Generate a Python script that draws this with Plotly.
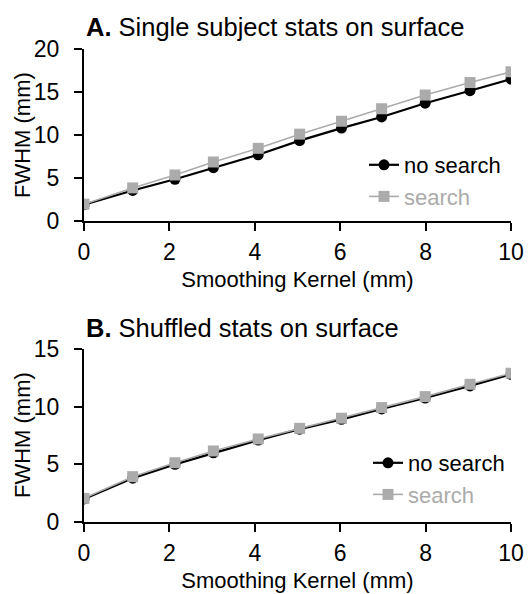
import plotly.graph_objects as go

# Panel A: single subject stats on surface
kernel_a = [0, 1.14, 2.13, 3.03, 4.08, 5.05, 6.03, 6.97, 7.99, 9.04, 10.0]
nosearch_a = [1.9, 3.55, 4.85, 6.2, 7.7, 9.35, 10.8, 12.1, 13.7, 15.15, 16.5]
search_a = [1.95, 3.85, 5.35, 6.86, 8.45, 10.1, 11.6, 13.05, 14.65, 16.1, 17.35]

# Panel B: shuffled stats on surface
kernel_b = [0, 1.14, 2.13, 3.03, 4.08, 5.05, 6.03, 6.97, 7.99, 9.04, 10.0]
nosearch_b = [2.0, 3.8, 5.0, 6.0, 7.1, 8.05, 8.9, 9.8, 10.75, 11.8, 12.8]
search_b = [2.05, 3.93, 5.14, 6.16, 7.2, 8.12, 9.0, 9.92, 10.87, 11.94, 12.9]

titles = ["<b>A.</b> Single subject stats on surface", "<b>B.</b> Shuffled stats on surface"]
x_title = "Smoothing Kernel (mm)"
y_title = "FWHM (mm)"
x_ticks = [0, 2, 4, 6, 8, 10]
y_ticks_a = [0, 5, 10, 15, 20]
y_ticks_b = [0, 5, 10, 15]

BLACK = "#000000"
GRAY = "#ababab"
FONT = "Liberation Sans, Arial, sans-serif"

fig = go.Figure()

def add_pair(x, ns, s, xa, ya, leg):
    fig.add_trace(go.Scatter(x=x, y=ns, mode="lines+markers", name="no search",
                             line=dict(color=BLACK, width=2.2),
                             marker=dict(symbol="circle", size=11, color=BLACK),
                             xaxis=xa, yaxis=ya, legend=leg))
    fig.add_trace(go.Scatter(x=x, y=s, mode="lines+markers",
                             name="<span style='color:%s'>search</span>" % GRAY,
                             line=dict(color=GRAY, width=1.6),
                             marker=dict(symbol="square", size=11, color=GRAY),
                             xaxis=xa, yaxis=ya, legend=leg))

add_pair(kernel_a, nosearch_a, search_a, "x", "y", "legend")
add_pair(kernel_b, nosearch_b, search_b, "x2", "y2", "legend2")

W, H = 528, 594
x0, x1 = 84 / W, 511 / W

axis_common = dict(showline=True, linecolor=BLACK, linewidth=2, ticks="outside",
                   ticklen=8, tickwidth=2, tickcolor=BLACK, showgrid=False,
                   zeroline=False, automargin=False,
                   tickfont=dict(size=23, color=BLACK, family=FONT),
                   title_font=dict(size=22, color=BLACK, family=FONT))

ytitle_font = dict(size=22, color=BLACK, family=FONT)

fig.update_layout(
    width=W, height=H,
    margin=dict(l=0, r=0, t=0, b=0),
    paper_bgcolor="white", plot_bgcolor="white",
    font=dict(family=FONT, color=BLACK),
    xaxis=dict(domain=[x0, x1], range=[0, 10], tickvals=x_ticks, anchor="y",
               ticklabelstandoff=1,
               title=dict(text=x_title, standoff=8), **axis_common),
    yaxis=dict(domain=[1 - 221 / H, 1 - 49 / H], range=[0, 20], tickvals=y_ticks_a,
               anchor="x", ticklabelstandoff=10, **axis_common),
    xaxis2=dict(domain=[x0, x1], range=[0, 10], tickvals=x_ticks, anchor="y2",
                ticklabelstandoff=1,
                title=dict(text=x_title, standoff=8), **axis_common),
    yaxis2=dict(domain=[1 - 522 / H, 1 - 349 / H], range=[0, 15], tickvals=y_ticks_b,
                anchor="x2", ticklabelstandoff=10, **axis_common),
    legend=dict(x=364 / W, y=1 - 144 / H, xanchor="left", yanchor="top",
                bgcolor="rgba(0,0,0,0)", font=dict(size=22, color=BLACK, family=FONT),
                tracegroupgap=0, itemwidth=30),
    legend2=dict(x=368 / W, y=1 - 442 / H, xanchor="left", yanchor="top",
                 bgcolor="rgba(0,0,0,0)", font=dict(size=22, color=BLACK, family=FONT),
                 tracegroupgap=0, itemwidth=30),
    annotations=[
        dict(text=titles[0], x=84 / W, y=1 - 27 / H, xref="paper", yref="paper",
             xanchor="left", yanchor="middle", showarrow=False,
             font=dict(size=25.5, color=BLACK, family=FONT)),
        dict(text=titles[1], x=84 / W, y=1 - 328 / H, xref="paper", yref="paper",
             xanchor="left", yanchor="middle", showarrow=False,
             font=dict(size=25.5, color=BLACK, family=FONT)),
        dict(text=y_title, x=22 / W, y=1 - 135 / H, xref="paper", yref="paper",
             xanchor="center", yanchor="middle", textangle=-90, showarrow=False,
             font=ytitle_font),
        dict(text=y_title, x=22 / W, y=1 - 435 / H, xref="paper", yref="paper",
             xanchor="center", yanchor="middle", textangle=-90, showarrow=False,
             font=ytitle_font),
    ],
)

fig.write_html("out.html", config={"displayModeBar": False},
               post_script="document.body.style.margin='0';")
